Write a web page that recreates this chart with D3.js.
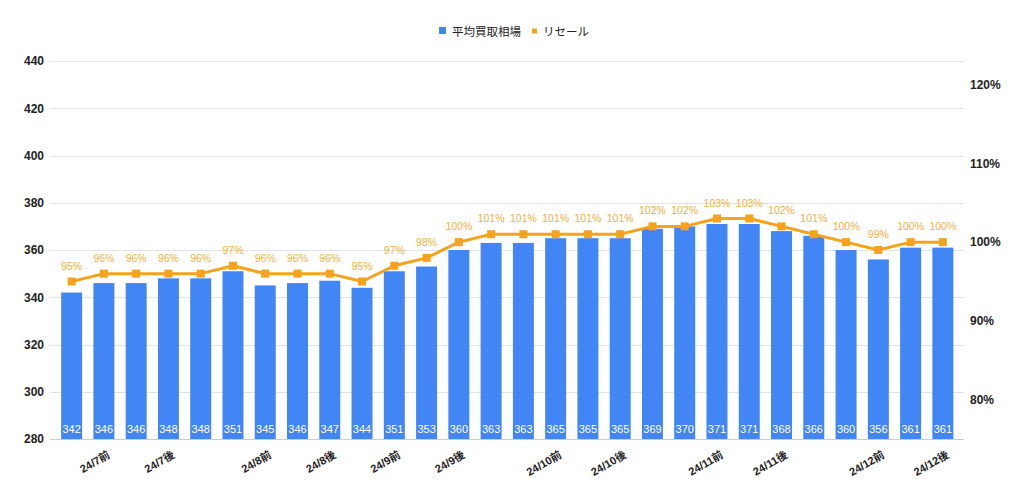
<!DOCTYPE html>
<html>
<head>
<meta charset="utf-8">
<script src="https://cdn.jsdelivr.net/npm/d3@7"></script>
<style>
  body { margin: 0; background: #fff; }
  text { font-family: "Liberation Sans", Arial, "Noto Sans CJK JP", sans-serif; }
</style>
</head>
<body>
<div id="chart"></div>
<script>
const width = 1024;
const height = 496;

// Data
const xLabels = ["", "24/7前", "", "24/7後", "", "", "24/8前", "", "24/8後", "", "24/9前", "", "24/9後", "",
                 "", "24/10前", "", "24/10後", "", "", "24/11前", "", "24/11後", "", "", "24/12前", "", "24/12後"];
const buyPrice = [342, 346, 346, 348, 348, 351, 345, 346, 347, 344, 351, 353, 360, 363,
                  363, 365, 365, 365, 369, 370, 371, 371, 368, 366, 360, 356, 361, 361];
const resale = [95, 96, 96, 96, 96, 97, 96, 96, 96, 95, 97, 98, 100, 101,
                101, 101, 101, 101, 102, 102, 103, 103, 102, 101, 100, 99, 100, 100];
const leftTicks = [280, 300, 320, 340, 360, 380, 400, 420, 440];
const rightTicks = [80, 90, 100, 110, 120];
const seriesNames = ["平均買取相場", "リセール"];

const blue = "#4285f4";
const orange = "#f6a21c";

// Plot area
const plot = {top: 61, bottom: 439, left: 55.5, right: 959};

const svg = d3.select("#chart")
    .append("svg")
    .attr("width", width)
    .attr("height", height);

const idx = d3.range(buyPrice.length);

const x = d3.scaleBand()
    .domain(idx)
    .range([plot.left, plot.right])
    .paddingInner(0.35)
    .paddingOuter(0.175);

const yLeft = d3.scaleLinear()
    .domain([280, 440])
    .range([plot.bottom, plot.top]);

const yRight = d3.scaleLinear()
    .domain([75, 123])
    .range([plot.bottom, plot.top]);

// Gridlines
svg.append("g")
    .selectAll("line")
    .data(leftTicks)
    .join("line")
    .attr("x1", 50)
    .attr("x2", 964)
    .attr("y1", d => Math.round(yLeft(d)) + 0.5)
    .attr("y2", d => Math.round(yLeft(d)) + 0.5)
    .attr("stroke", d => d === 280 ? "#cccccc" : "#e3e3e3")
    .attr("stroke-width", 1);

// Left axis
const leftAxis = svg.append("g")
    .attr("transform", "translate(44,0)")
    .call(d3.axisLeft(yLeft).tickValues(leftTicks).tickSize(0).tickPadding(0));
leftAxis.select(".domain").remove();
leftAxis.selectAll("text")
    .attr("font-size", 12)
    .attr("font-weight", "bold")
    .attr("fill", "#222");

// Right axis (labels only)
const rightAxis = svg.append("g")
    .attr("transform", "translate(970,0)")
    .call(d3.axisRight(yRight).tickValues(rightTicks).tickSize(0).tickPadding(0).tickFormat(d => d + "%"));
rightAxis.select(".domain").remove();
rightAxis.selectAll("text")
    .attr("font-size", 12)
    .attr("font-weight", "bold")
    .attr("fill", "#222");

// Bars
svg.append("g")
    .selectAll("rect")
    .data(idx)
    .join("rect")
    .attr("x", i => x(i))
    .attr("y", i => yLeft(buyPrice[i]))
    .attr("width", x.bandwidth())
    .attr("height", i => yLeft(280) - yLeft(buyPrice[i]))
    .attr("fill", blue);

// Bar value labels
svg.append("g")
    .selectAll("text")
    .data(idx)
    .join("text")
    .attr("x", i => x(i) + x.bandwidth() / 2)
    .attr("y", 433)
    .attr("text-anchor", "middle")
    .attr("font-size", 11)
    .attr("fill", "#fff")
    .text(i => buyPrice[i]);

// Resale line
const line = d3.line()
    .x(i => x(i) + x.bandwidth() / 2)
    .y(i => yRight(resale[i]));

svg.append("path")
    .datum(idx)
    .attr("d", line)
    .attr("fill", "none")
    .attr("stroke", orange)
    .attr("stroke-width", 3)
    .attr("stroke-linejoin", "round");

svg.append("g")
    .selectAll("rect")
    .data(idx)
    .join("rect")
    .attr("x", i => x(i) + x.bandwidth() / 2 - 4)
    .attr("y", i => yRight(resale[i]) - 4)
    .attr("width", 8)
    .attr("height", 8)
    .attr("fill", orange);

svg.append("g")
    .selectAll("text")
    .data(idx)
    .join("text")
    .attr("x", i => x(i) + x.bandwidth() / 2)
    .attr("y", i => yRight(resale[i]) - 12)
    .attr("text-anchor", "middle")
    .attr("font-size", 10.5)
    .attr("fill", "#f4b040")
    .text(i => resale[i] + "%");

// X labels, rotated
svg.append("g")
    .selectAll("text")
    .data(idx.filter(i => xLabels[i] !== ""))
    .join("text")
    .attr("transform", i => `translate(${x(i) + x.bandwidth() / 2 + 7},457) rotate(-30)`)
    .attr("text-anchor", "end")
    .attr("font-size", 11)
    .attr("font-weight", "bold")
    .attr("fill", "#222")
    .text(i => xLabels[i]);

// Legend
const legend = svg.append("g");
legend.append("rect")
    .attr("x", 439).attr("y", 27)
    .attr("width", 7).attr("height", 7)
    .attr("fill", blue);
legend.append("text")
    .attr("x", 452).attr("y", 35.5)
    .attr("font-size", 11.5)
    .attr("fill", "#222")
    .text(seriesNames[0]);
legend.append("rect")
    .attr("x", 532).attr("y", 28.5)
    .attr("width", 5).attr("height", 5)
    .attr("fill", orange);
legend.append("text")
    .attr("x", 543).attr("y", 35.5)
    .attr("font-size", 11.5)
    .attr("fill", "#222")
    .text(seriesNames[1]);
</script>
</body>
</html>
